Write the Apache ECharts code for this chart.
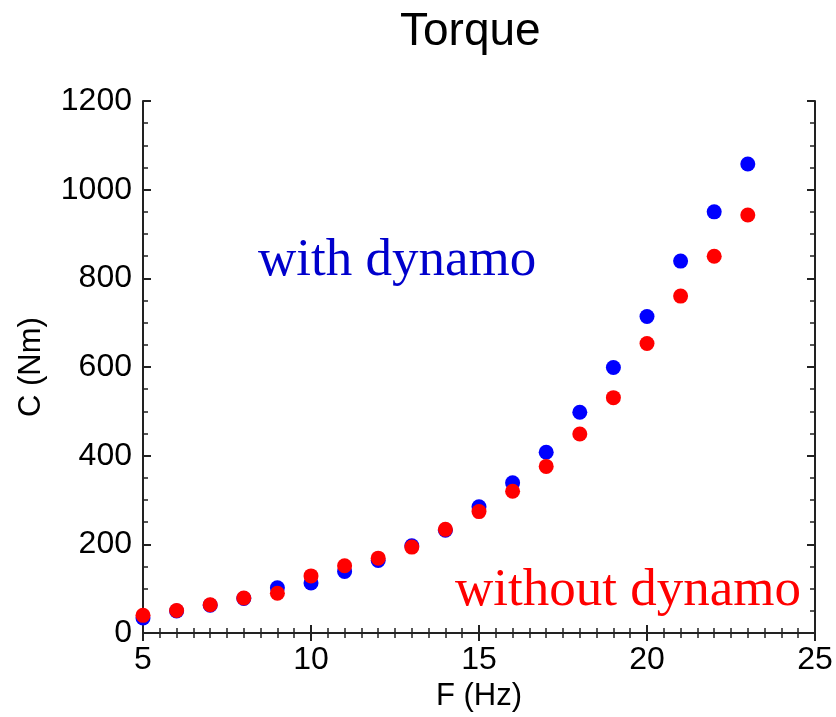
<!DOCTYPE html>
<html>
<head>
<meta charset="utf-8">
<script src="https://cdn.jsdelivr.net/npm/echarts@6/dist/echarts.min.js"></script>
<style>
  html, body { margin: 0; padding: 0; background: #fff; }
  #chart { width: 836px; height: 717px; }
</style>
</head>
<body>
<div id="chart"></div>
<script>
// Frequency (Hz) of each measurement
const freqHz = [5, 6, 7, 8, 9, 10, 11, 12, 13, 14, 15, 16, 17, 18, 19, 20, 21, 22, 23];
// Torque with the dynamo attached (Nm)
const torqueWithDynamo = [34, 50, 63, 78, 102, 113, 139, 164, 197, 232, 285, 339, 408, 498, 599, 714, 839, 950, 1058];
// Torque without the dynamo (Nm)
const torqueWithoutDynamo = [40, 51, 64, 79, 90, 129, 152, 169, 194, 234, 274, 320, 376, 449, 531, 653, 760, 850, 943];

const chart = echarts.init(document.getElementById('chart'));
const sans = 'Liberation Sans, Arial, sans-serif';
const serif = 'Liberation Serif, Times New Roman, serif';
const frameColor = '#222';
const axisLine = { show: true, lineStyle: { color: frameColor, width: 2 } };
const plainNumber = v => String(v);

function pairs(ys) { return freqHz.map((x, i) => [x, ys[i]]); }

const xBase = {
  type: 'value', min: 5, max: 25, interval: 5,
  axisLine: axisLine,
  axisTick: { show: true, inside: true, length: 8, lineStyle: { color: frameColor, width: 2 } },
  minorTick: { show: true, splitNumber: 10, length: 5, lineStyle: { color: frameColor, width: 1.5 } },
  splitLine: { show: false }
};
const yBase = {
  type: 'value', min: 0, max: 1200, interval: 200,
  axisLine: axisLine,
  axisTick: { show: true, inside: true, length: 8, lineStyle: { color: frameColor, width: 2 } },
  minorTick: { show: true, splitNumber: 4, length: 5, lineStyle: { color: frameColor, width: 1.5 } },
  splitLine: { show: false }
};

chart.setOption({
  backgroundColor: '#fff',
  animation: false,
  title: {
    text: 'Torque', left: 395, top: 4,
    textStyle: { fontFamily: sans, fontSize: 46, fontWeight: 'normal', color: '#000' }
  },
  grid: { left: 143, top: 101, right: 21, bottom: 81, containLabel: false },
  xAxis: [
    Object.assign({}, xBase, {
      position: 'bottom',
      name: 'F (Hz)', nameLocation: 'middle', nameGap: 43,
      nameTextStyle: { fontFamily: sans, fontSize: 31, color: '#000' },
      axisLabel: { fontFamily: sans, fontSize: 32, color: '#000', margin: 11, formatter: plainNumber }
    }),
    Object.assign({}, xBase, { position: 'top', axisLabel: { show: false } })
  ],
  yAxis: [
    Object.assign({}, yBase, {
      position: 'left',
      name: 'C (Nm)', nameLocation: 'middle', nameGap: 96, nameRotate: 90,
      nameTextStyle: { fontFamily: sans, fontSize: 31, color: '#000' },
      axisLabel: { fontFamily: sans, fontSize: 32, color: '#000', margin: 11, formatter: plainNumber }
    }),
    Object.assign({}, yBase, { position: 'right', axisLabel: { show: false } })
  ],
  series: [
    {
      name: 'with dynamo', type: 'scatter', symbol: 'circle', symbolSize: 15,
      itemStyle: { color: '#0000ff', opacity: 1 },
      data: pairs(torqueWithDynamo), z: 2
    },
    {
      name: 'without dynamo', type: 'scatter', symbol: 'circle', symbolSize: 15,
      itemStyle: { color: '#ff0000', opacity: 1 },
      data: pairs(torqueWithoutDynamo), z: 3
    }
  ],
  graphic: [
    {
      type: 'text', x: 258, y: 235,
      style: { text: 'with dynamo', font: '53px ' + serif, fill: '#0000cc', align: 'left', verticalAlign: 'top' }
    },
    {
      type: 'text', x: 455, y: 565,
      style: { text: 'without dynamo', font: '53px ' + serif, fill: '#ff0000', align: 'left', verticalAlign: 'top' }
    }
  ]
});
</script>
</body>
</html>
